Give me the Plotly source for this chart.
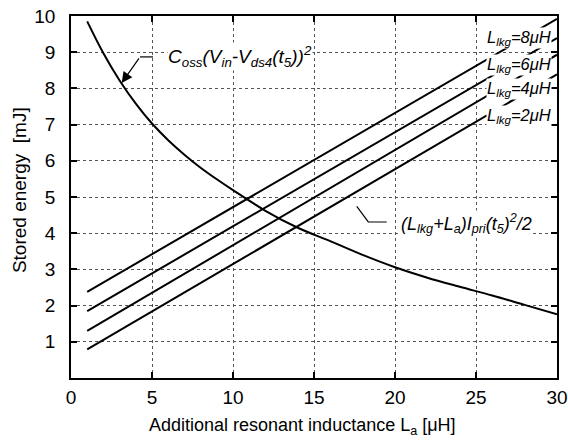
import plotly.graph_objects as go

# Coss curve
coss_x = [1, 2, 3, 4, 5, 6, 7, 8, 9, 10, 12, 14, 16, 18, 20, 22, 24, 26, 28, 30]
coss_y = [9.85, 8.97, 8.22, 7.58, 7.03, 6.57, 6.17, 5.81, 5.49, 5.19, 4.62, 4.15, 3.78, 3.40, 3.06, 2.77, 2.52, 2.28, 2.02, 1.76]

# Inductive energy lines
la_x = [1, 5, 10, 15, 20, 25, 30]
e_lkg8 = [2.38, 3.42, 4.72, 6.02, 7.32, 8.62, 9.92]
e_lkg6 = [1.85, 2.89, 4.19, 5.49, 6.79, 8.09, 9.39]
e_lkg4 = [1.30, 2.35, 3.67, 4.98, 6.30, 7.61, 8.93]
e_lkg2 = [0.79, 1.84, 3.15, 4.46, 5.77, 7.08, 8.39]

lkg_labels = ["8", "6", "4", "2"]
lkg_label_y = [9.38, 8.64, 7.97, 7.23]

x_ticks = [0, 5, 10, 15, 20, 25, 30]
y_ticks = [1, 2, 3, 4, 5, 6, 7, 8, 9, 10]

FONT = "Liberation Sans, Arial, sans-serif"
line_style = dict(color="black", width=2)

fig = go.Figure()
fig.add_trace(go.Scatter(x=coss_x, y=coss_y, mode="lines", line=line_style, line_shape="spline", showlegend=False))
for ys in [e_lkg8, e_lkg6, e_lkg4, e_lkg2]:
    fig.add_trace(go.Scatter(x=la_x, y=ys, mode="lines", line=line_style, showlegend=False))

annotations = []
for lab, ly in zip(lkg_labels, lkg_label_y):
    annotations.append(dict(x=30.0, y=ly, xref="x", yref="y", xanchor="right", yanchor="middle",
                            text=f"<i>L<sub>lkg</sub>={lab}\u03bcH</i>", showarrow=False,
                            font=dict(family=FONT, size=16.5, color="black"),
                            bgcolor="white", borderpad=0, xshift=-5))
# Coss label
annotations.append(dict(x=5.9, y=8.87, xref="x", yref="y", xanchor="left", yanchor="middle",
                        text="<i>C<sub>oss</sub>(V<sub>in</sub>-V<sub>ds4</sub>(t<sub>5</sub>))<sup>2</sup></i>",
                        showarrow=False, font=dict(family=FONT, size=19, color="black"),
                        bgcolor="white", borderpad=0))
# Coss arrow
annotations.append(dict(x=3.13, y=8.15, ax=4.26, ay=8.87, xref="x", yref="y", axref="x", ayref="y",
                        text="", showarrow=True, arrowhead=2, arrowsize=1.8, arrowwidth=1.2,
                        arrowcolor="black", standoff=0))
# Inductive energy label
annotations.append(dict(x=20.3, y=4.27, xref="x", yref="y", xanchor="left", yanchor="middle",
                        text="<i>(L<sub>lkg</sub>+L<sub>a</sub>)I<sub>pri</sub>(t<sub>5</sub>)<sup>2</sup>/2</i>",
                        showarrow=False, font=dict(family=FONT, size=18, color="black"),
                        bgcolor="white", borderpad=0))
# Axis titles
annotations.append(dict(x=0.476, y=-0.135, xref="paper", yref="paper", xanchor="center", yanchor="middle",
                        text="Additional resonant inductance L<sub>a</sub> [\u03bcH]", showarrow=False,
                        font=dict(family=FONT, size=18, color="black")))
annotations.append(dict(x=-0.107, y=0.519, xref="paper", yref="paper", xanchor="center", yanchor="middle",
                        text="Stored energy\u00a0\u00a0[mJ]", showarrow=False, textangle=-90,
                        font=dict(family=FONT, size=19, color="black")))

shapes = [
    dict(type="line", xref="x", yref="y", x0=4.26, y0=8.87, x1=5.06, y1=8.87, line=dict(color="black", width=1.2)),
    dict(type="path", xref="x", yref="y", path="M 17.64 4.74 L 18.35 4.31 L 19.49 4.31", line=dict(color="black", width=1.2)),
]

axis_common = dict(showline=True, linecolor="black", linewidth=1.5, mirror="ticks", ticks="inside", ticklen=6,
                   tickwidth=1.5, tickcolor="black", showgrid=True, gridcolor="#555555", griddash="dot", gridwidth=1,
                   zeroline=False, automargin=False, tickfont=dict(family=FONT, size=19, color="black"))

fig.update_layout(
    width=568, height=443,
    margin=dict(l=71, r=11, t=16, b=65),
    paper_bgcolor="white", plot_bgcolor="white",
    xaxis=dict(range=[0, 30], tickvals=x_ticks, ticktext=[str(v) for v in x_ticks],
               ticklabelstandoff=1, **axis_common),
    yaxis=dict(range=[0, 10], tickvals=y_ticks, ticktext=[str(v) for v in y_ticks],
               ticklabelstandoff=10, **axis_common),
    annotations=annotations,
    shapes=shapes,
)

fig.write_html("out.html")
